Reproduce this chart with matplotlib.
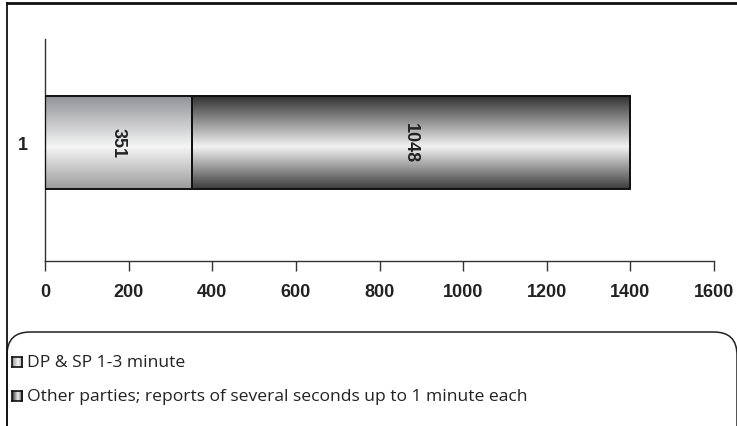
import matplotlib
matplotlib.use("Agg")
import matplotlib.pyplot as plt
import matplotlib.patches as mpatches
from matplotlib.colors import LinearSegmentedColormap
import numpy as np

# Data
categories = ["1"]
series_names = [
    "DP & SP 1-3 minute",
    "Other parties; reports of several seconds up to 1 minute each",
]
short_reports = [351]
long_reports = [1048]
x_ticks = [0, 200, 400, 600, 800, 1000, 1200, 1400, 1600]

# Metallic gradients (dark edges, light centre)
cmaps = [
    LinearSegmentedColormap.from_list(
        "light", [(0, "#8f9195"), (0.55, "#f5f5f5"), (1, "#9b9b9b")]),
    LinearSegmentedColormap.from_list(
        "dark", [(0, "#2e2e2e"), (0.55, "#f2f2f2"), (1, "#3c3c3c")]),
]

W, H, DPI = 737, 427, 100
fig = plt.figure(figsize=(W / DPI, H / DPI), dpi=DPI)

ax = fig.add_axes([45 / W, 1 - 262 / H, (714 - 45) / W, (262 - 40) / H])
bold = dict(family="Liberation Sans", weight="bold", size=13, color="#222222")

ypos = np.arange(1, len(categories) + 1)
bar_h = 0.42
grad = np.linspace(0, 1, 256).reshape(-1, 1)

lefts = np.zeros(len(categories))
for values, cmap in zip([short_reports, long_reports], cmaps):
    bars = ax.barh(ypos, values, height=bar_h, left=lefts, color="none",
                   edgecolor="#111111", linewidth=1.4, zorder=3)
    for bar, v in zip(bars, values):
        x0, y0 = bar.get_x(), bar.get_y()
        w, h = bar.get_width(), bar.get_height()
        ax.imshow(grad, cmap=cmap, aspect="auto", origin="upper",
                  extent=[x0, x0 + w, y0, y0 + h], zorder=2,
                  interpolation="bicubic")
        ax.text(x0 + w / 2, y0 + h / 2, str(v), rotation=-90,
                ha="center", va="center", zorder=4, **bold)
    lefts = lefts + np.array(values)

ax.set_xlim(0, 1600)
ax.set_ylim(0.466, 1.466)
ax.set_xticks(x_ticks)
ax.set_xticklabels([str(t) for t in x_ticks], **bold)
ax.set_yticks(ypos)
ax.set_yticklabels(categories, **bold)
ax.tick_params(axis="x", direction="out", length=7, width=1, color="#333333",
               pad=9)
ax.tick_params(axis="y", length=0, pad=12)
for side in ["top", "right"]:
    ax.spines[side].set_visible(False)
for side in ["left", "bottom"]:
    ax.spines[side].set_color("#333333")
    ax.spines[side].set_linewidth(1)

# Outer frame (top and left edges)
fig.add_artist(plt.Line2D([7 / W, 1], [1 - 4 / H, 1 - 4 / H],
                          transform=fig.transFigure, color="#111111", lw=2))
fig.add_artist(plt.Line2D([7 / W, 7 / W], [0, 1 - 4 / H],
                          transform=fig.transFigure, color="#111111", lw=1.3))

# Rounded legend box
box = mpatches.FancyBboxPatch(
    (0.07, -0.4), 7.30, 0.4 + (H - 333) / DPI,
    boxstyle="round,pad=0,rounding_size=0.23",
    transform=fig.dpi_scale_trans, facecolor="none",
    edgecolor="#222222", lw=1.1)
fig.add_artist(box)

# Legend entries
for i, (name, cmap) in enumerate(zip(series_names, cmaps)):
    yc = 363 + 34 * i
    sw = fig.add_axes([12 / W, 1 - (yc + 5) / H, 10 / W, 10 / H])
    sw.imshow(np.linspace(0, 1, 64).reshape(1, -1), cmap=cmap, aspect="auto")
    sw.set_xticks([])
    sw.set_yticks([])
    for s in sw.spines.values():
        s.set_linewidth(1.2)
        s.set_color("#111111")
    fig.text(27 / W, 1 - yc / H, name, ha="left", va="center",
             family="Open Sans", size=12.6, color="#222222")

fig.savefig("out.png", dpi=DPI)
